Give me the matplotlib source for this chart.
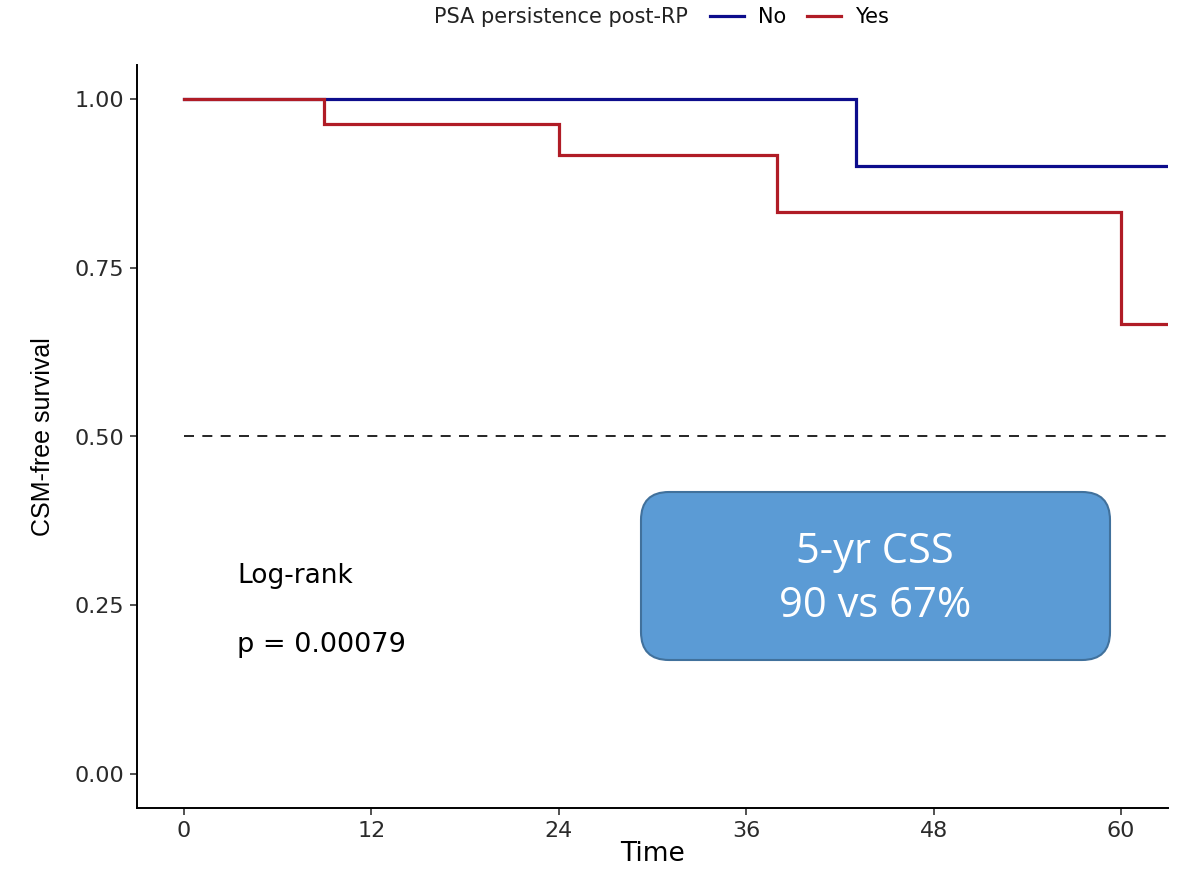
import matplotlib
matplotlib.use('Agg')
import matplotlib.pyplot as plt
from matplotlib.patches import FancyBboxPatch
from matplotlib.lines import Line2D
from matplotlib.transforms import IdentityTransform

plt.rcParams['font.family'] = ['DejaVu Sans']

# Kaplan-Meier steps (months, survival)
time_no = [0, 43, 63]
surv_no = [1.00, 0.90, 0.90]
time_yes = [0, 9, 24, 38, 60, 63]
surv_yes = [1.00, 0.963, 0.917, 0.833, 0.667, 0.667]

x_ticks = [0, 12, 24, 36, 48, 60]
y_ticks = [0.00, 0.25, 0.50, 0.75, 1.00]
y_labels = ['0.00', '0.25', '0.50', '0.75', '1.00']

col_no = '#0d0d8c'
col_yes = '#b01c26'

W, H = 1184, 871
fig = plt.figure(figsize=(W / 100, H / 100), dpi=100)
ax = fig.add_axes([137 / W, 1 - 808 / H, (1168 - 137) / W, (808 - 65) / H])

ax.step(time_no, surv_no, where='post', color=col_no, lw=2.3, solid_joinstyle='miter')
ax.step(time_yes, surv_yes, where='post', color=col_yes, lw=2.3, solid_joinstyle='miter')
ax.plot([0, 63], [0.5, 0.5], color='black', lw=1.2, dashes=(6, 5))

ax.set_xlim(-3, 63)
ax.set_ylim(-0.05, 1.05)
ax.set_xticks(x_ticks)
ax.set_yticks(y_ticks)
ax.set_yticklabels(y_labels)
ax.tick_params(labelsize=16, length=5, width=1.2, color='#333333', labelcolor='#2a2a2a', pad=4)
for s in ['top', 'right']:
    ax.spines[s].set_visible(False)
for s in ['left', 'bottom']:
    ax.spines[s].set_linewidth(1.4)
ax.set_xlabel('Time', fontsize=19, labelpad=0)
ax.set_ylabel('CSM-free survival', fontsize=18, labelpad=14, family=['Liberation Sans', 'DejaVu Sans'])

ax.text(3.4, 0.293, 'Log-rank', fontsize=19, va='center', ha='left')
ax.text(3.4, 0.192, 'p = 0.00079', fontsize=19.5, va='center', ha='left')

# legend on top
fig.text(688 / W, 1 - 17 / H, 'PSA persistence post-RP', fontsize=15, ha='right', va='center',
         color='#222222')
handles = [Line2D([], [], color=col_no, lw=2.3), Line2D([], [], color=col_yes, lw=2.3)]
fig.legend(handles, ['No', 'Yes'], ncol=2, frameon=False, fontsize=15,
           loc='center left', bbox_to_anchor=(700 / W, 1 - 17 / H),
           handlelength=1.6, handletextpad=0.7, columnspacing=1.0, borderpad=0)

# blue callout box (pixel coordinates)
box = FancyBboxPatch((641, H - 660), 469, 168, boxstyle='round,pad=0,rounding_size=28',
                     transform=IdentityTransform(), facecolor='#5b9bd5', edgecolor='#41719c', lw=1.5)
fig.add_artist(box)
fig.text(875 / W, 1 - 552 / H, '5-yr CSS', fontsize=30, color='white', ha='center', va='center',
         family=['Open Sans', 'DejaVu Sans'])
fig.text(875 / W, 1 - 606 / H, '90 vs 67%', fontsize=30, color='white', ha='center', va='center',
         family=['Open Sans', 'DejaVu Sans'])

fig.savefig('out.png', dpi=100)
